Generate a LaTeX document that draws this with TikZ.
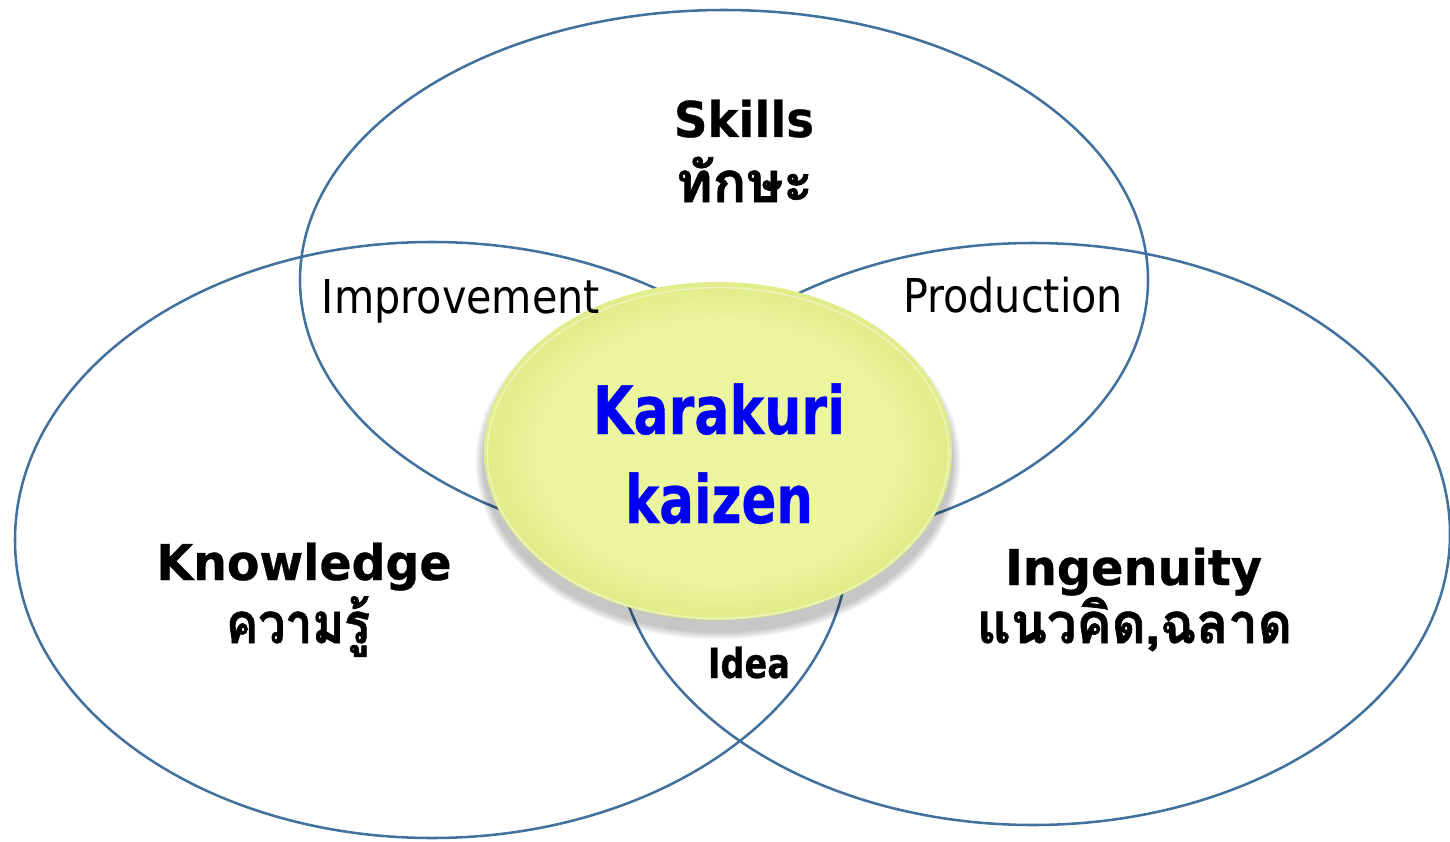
\documentclass[tikz,border=0pt]{standalone}
\usepackage{fontspec}
\setmainfont{DejaVu Sans}[BoldFeatures={FakeBold=0.6}]
\newfontfamily\thaifont[Script=Thai,BoldFeatures={FakeBold=1.2}]{Loma}
\usepackage{graphicx}
\definecolor{ring}{RGB}{65,113,156}
\definecolor{kc}{RGB}{234,245,158}
\definecolor{ke}{RGB}{224,237,138}
\definecolor{kblue}{RGB}{0,0,245}
\pgfdeclareradialshading{karashade}{\pgfpoint{0bp}{0bp}}{color(0bp)=(kc);color(19bp)=(kc);color(24bp)=(ke);color(25bp)=(ke);color(50bp)=(ke)}
\newcommand{\fitw}[2]{\resizebox{#1}{\height}{#2}}
\begin{document}
\begin{tikzpicture}[x=0.75pt,y=-0.75pt,
  ringline/.style={draw=ring,line width=1.9pt},
  lbl/.style={anchor=base,inner sep=0pt,outer sep=0pt},
  bigen/.style={lbl,font=\fontsize{37}{40}\selectfont\bfseries},
  bigth/.style={lbl,font=\thaifont\fontsize{42}{46}\selectfont\bfseries},
  midtxt/.style={lbl,font=\fontsize{35}{38}\selectfont},
  kara/.style={lbl,text=kblue,font=\fontsize{50}{54}\selectfont\bfseries}]
\useasboundingbox (0,0) rectangle (1450,842);
% three circles
\draw[ringline] (724,280) ellipse [x radius=318pt, y radius=202.5pt];
\draw[ringline] (432,540) ellipse [x radius=312.75pt, y radius=223.5pt];
\draw[ringline] (1033,534) ellipse [x radius=312.75pt, y radius=218.25pt];
% shadow of centre ellipse
\foreach \i in {1,...,8}
  \fill[black,opacity=0.03] (718,462) ellipse [x radius={175.5pt+\i*0.8pt}, y radius={126.75pt+\i*0.8pt}];
% centre ellipse
\path[shading=karashade] (718,451) ellipse [x radius=175.5pt, y radius=126.75pt];
\draw[white,opacity=0.45,line width=1pt] (718,453) ellipse [x radius=173pt, y radius=124pt];
% labels
\node[bigen] (skills) at (744,137) {\fitw{105pt}{Skills}};
\node[bigth] (skillsth) at (744.5,202) {\fitw{102.75pt}{ทักษะ}};
\node[bigen] (know) at (304,580) {\fitw{221.25pt}{Knowledge}};
\node[bigth] (knowth) at (298,643) {\fitw{108pt}{ความรู้}};
\node[bigen] (ingen) at (1133.5,585) {\fitw{192.75pt}{Ingenuity}};
\node[bigth] (ingenth) at (1134.5,643) {\fitw{236.25pt}{แนวคิด,ฉลาด}};
\node[kara] (kara1) at (719,434) {\fitw{189pt}{Karakuri}};
\node[kara] (kara2) at (719,523) {\fitw{141pt}{kaizen}};
\node[midtxt] (impr) at (461,313) {\fitw{208.5pt}{Improvement}};
\node[midtxt] (prod) at (1013,312) {\fitw{165pt}{Production}};
\node[lbl,font=\fontsize{31}{34}\selectfont\bfseries] (idea) at (749,678) {\fitw{61.5pt}{Idea}};
\end{tikzpicture}
\end{document}
